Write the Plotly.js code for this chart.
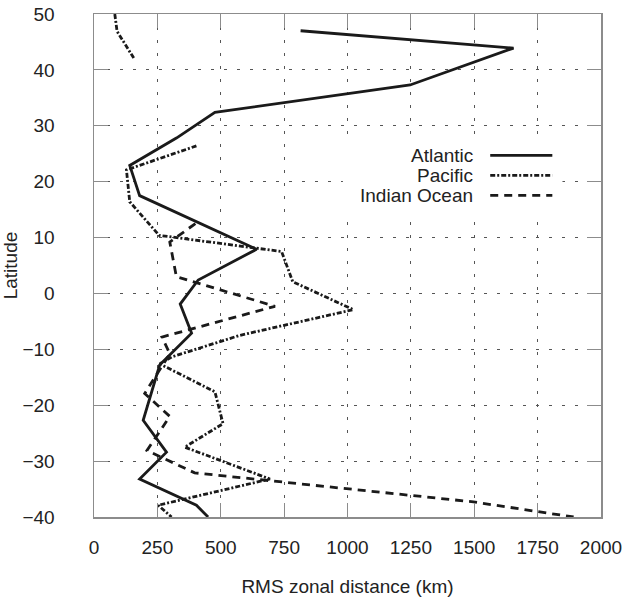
<!DOCTYPE html>
<html>
<head>
<meta charset="utf-8">
<script src="https://cdn.plot.ly/plotly-3.0.1.min.js"></script>
<style>html,body{margin:0;padding:0;background:#fff;}#chart{width:622px;height:602px;}</style>
</head>
<body>
<div id="chart"></div>
<script>
// Atlantic (solid)
const atlanticKm  = [815, 1655, 1247, 477, 325, 141, 180, 641, 411, 340, 385, 259, 194, 286, 180, 404, 450];
const atlanticLat = [47.0, 43.9, 37.3, 32.4, 27.8, 22.9, 17.5, 7.9, 2.4, -1.9, -7.1, -12.8, -22.7, -28.4, -33.2, -37.9, -40.0];
// Pacific (dash-dot), gap between the northern and southern pieces
const pacificKm  = [82, 91, 157, null, 404, 128, 141, 257, 740, 784, 1023, 575, 310, 259, 477, 509, 358, 694, 253, 306];
const pacificLat = [50, 46.9, 42.1, null, 26.4, 22.1, 16.4, 10.4, 7.5, 2.1, -2.9, -7.5, -11.3, -12.6, -17.6, -23.3, -27.5, -33.2, -37.9, -40.0];
// Indian Ocean (dashed)
const indianKm  = [400, 299, 325, 714, 268, 299, 200, 299, 209, 397, 1497, 1892];
const indianLat = [12.5, 9.2, 3.0, -2.3, -7.8, -10.8, -17.9, -22.0, -28.1, -32.1, -37.3, -40.0];

const seriesNames = ["Atlantic", "Pacific", "Indian Ocean"];
const xTicks = [0, 250, 500, 750, 1000, 1250, 1500, 1750, 2000];
const yTicks = [50, 40, 30, 20, 10, 0, -10, -20, -30, -40];

const ink = "#1a1a1a";
const dashes = ["solid", "5px,2px,2px,2px", "8px,6px"];
const lw = 2.8;
const FONT = "Liberation Sans, Arial, sans-serif";

const traces = [
  {x: atlanticKm, y: atlanticLat, name: seriesNames[0], mode: "lines", line: {color: ink, width: lw, dash: dashes[0]}, connectgaps: false},
  {x: pacificKm,  y: pacificLat,  name: seriesNames[1], mode: "lines", line: {color: ink, width: lw, dash: dashes[1]}, connectgaps: false},
  {x: indianKm,   y: indianLat,   name: seriesNames[2], mode: "lines", line: {color: ink, width: lw, dash: dashes[2]}, connectgaps: false}
];

// legend drawn as annotations + sample lines (text left, line right, like the original)
const legX0 = 0.7815, legX1 = 0.904, legTextX = 0.752;
const legY = [0.719, 0.679, 0.6395];
const shapes = [
  {type: "rect", xref: "paper", yref: "paper", x0: 0.491, x1: 0.924, y0: 0.594, y1: 0.749,
   fillcolor: "#fff", line: {width: 0}, layer: "above"}
];
const annotations = [];
seriesNames.forEach((n, i) => {
  shapes.push({type: "line", xref: "paper", yref: "paper", x0: legX0, x1: legX1, y0: legY[i], y1: legY[i],
               line: {color: ink, width: lw, dash: dashes[i]}, layer: "above"});
  annotations.push({xref: "paper", yref: "paper", x: legTextX, y: legY[i], xanchor: "right", yanchor: "middle",
               text: n, showarrow: false, font: {family: FONT, size: 19, color: "#222"}});
});

const axisCommon = {
  showline: true, linecolor: "#8c8c8c", linewidth: 1.5, mirror: "ticks",
  ticks: "inside", ticklen: 14, tickcolor: "#8c8c8c", tickwidth: 1.2,
  showgrid: true, gridcolor: "#555", gridwidth: 1, griddash: "3px,10px",
  zeroline: false, tickfont: {family: FONT, size: 19, color: "#222"}
};

const layout = {
  width: 622, height: 602,
  margin: {l: 94, r: 21, t: 14, b: 85},
  paper_bgcolor: "#fff", plot_bgcolor: "#fff",
  showlegend: false,
  font: {family: FONT, size: 19, color: "#222"},
  xaxis: Object.assign({}, axisCommon, {
    range: [0, 2000], tickvals: xTicks, ticktext: xTicks.map(String),
    ticklabelstandoff: 13, ticklabeloverflow: "allow",
    title: {text: "RMS zonal distance (km)", font: {family: FONT, size: 19, color: "#222"}, standoff: 22}
  }),
  yaxis: Object.assign({}, axisCommon, {
    range: [-40, 50], tickvals: yTicks,
    ticklabelstandoff: 34,
    title: {text: "Latitude", font: {family: FONT, size: 19, color: "#222"}, standoff: 12}
  }),
  shapes: shapes,
  annotations: annotations
};

Plotly.newPlot("chart", traces, layout, {displayModeBar: false, staticPlot: true});
</script>
</body>
</html>
